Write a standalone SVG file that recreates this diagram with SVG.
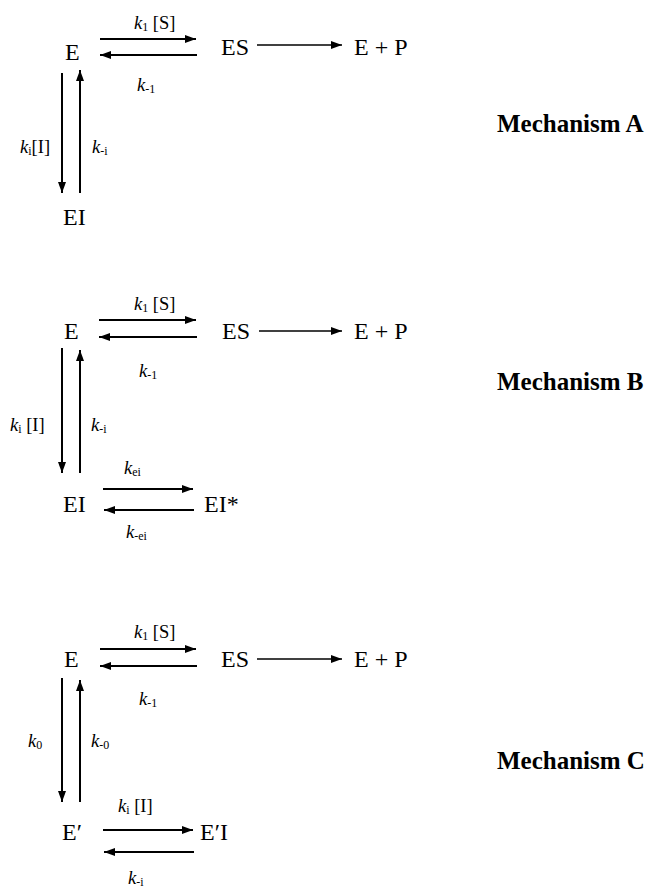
<svg xmlns="http://www.w3.org/2000/svg" width="650" height="888" viewBox="0 0 650 888" font-family="Liberation Serif, DejaVu Serif, serif">
<style>
text{font-family:'Liberation Serif','DejaVu Serif',serif;fill:#000}
.t{font-size:24px}
.k{font-size:18.5px}
.i{font-style:italic}
.s{font-size:12px;font-style:normal}
.m{font-size:25px;font-weight:bold}
.a{stroke:#000;stroke-width:2;fill:none}
.b{stroke:#000;stroke-width:1.3;fill:none}
</style>
<defs>
<marker id="ah" viewBox="0 0 11 8" refX="11" refY="4" markerWidth="11" markerHeight="8" markerUnits="userSpaceOnUse" orient="auto"><path d="M0,0L11,4L0,8z" fill="#000"/></marker>
</defs>
<g id="connectors">
<line class="a" x1="100" y1="39" x2="196" y2="39" marker-end="url(#ah)"/>
<line class="a" x1="197" y1="55" x2="100" y2="55" marker-end="url(#ah)"/>
<line class="b" x1="257" y1="45" x2="342" y2="45" marker-end="url(#ah)"/>
<line class="a" x1="62" y1="73" x2="62" y2="193" marker-end="url(#ah)"/>
<line class="a" x1="80" y1="193" x2="80" y2="70" marker-end="url(#ah)"/>
<line class="a" x1="99" y1="320" x2="196" y2="320" marker-end="url(#ah)"/>
<line class="a" x1="197" y1="337" x2="99" y2="337" marker-end="url(#ah)"/>
<line class="b" x1="259" y1="331" x2="342" y2="331" marker-end="url(#ah)"/>
<line class="a" x1="62" y1="348" x2="62" y2="473" marker-end="url(#ah)"/>
<line class="a" x1="80" y1="473" x2="80" y2="350" marker-end="url(#ah)"/>
<line class="a" x1="103" y1="489" x2="193" y2="489" marker-end="url(#ah)"/>
<line class="a" x1="194" y1="510" x2="104" y2="510" marker-end="url(#ah)"/>
<line class="a" x1="100" y1="649" x2="196" y2="649" marker-end="url(#ah)"/>
<line class="a" x1="197" y1="666" x2="100" y2="666" marker-end="url(#ah)"/>
<line class="b" x1="257" y1="659" x2="342" y2="659" marker-end="url(#ah)"/>
<line class="a" x1="62" y1="678" x2="62" y2="802" marker-end="url(#ah)"/>
<line class="a" x1="80" y1="802" x2="80" y2="680" marker-end="url(#ah)"/>
<line class="a" x1="103" y1="830" x2="193" y2="830" marker-end="url(#ah)"/>
<line class="a" x1="194" y1="852" x2="104" y2="852" marker-end="url(#ah)"/>
</g>
<g id="mechA">
<g id="A-E"><text class="t" x="65" y="60">E</text></g>
<g id="A-ES"><text class="t" x="221" y="55">ES</text></g>
<g id="A-EP"><text class="t" x="354" y="55">E + P</text></g>
<g id="A-EI"><text class="t" x="63" y="225">EI</text></g>
<text class="k" x="134" y="29"><tspan class="i">k</tspan><tspan class="s" dy="2">1</tspan><tspan dy="-2"> [S]</tspan></text>
<text class="k" x="137" y="91"><tspan class="i">k</tspan><tspan class="s" dy="2">-1</tspan></text>
<text class="k" x="20" y="153"><tspan class="i">k</tspan><tspan class="s" dy="2">i</tspan><tspan dy="-2">[I]</tspan></text>
<text class="k" x="92" y="153"><tspan class="i">k</tspan><tspan class="s" dy="2">-i</tspan></text>
<text class="m" x="497" y="132">Mechanism A</text>
</g>
<g id="mechB">
<g id="B-E"><text class="t" x="64" y="339">E</text></g>
<g id="B-ES"><text class="t" x="222" y="339">ES</text></g>
<g id="B-EP"><text class="t" x="354" y="339">E + P</text></g>
<g id="B-EI"><text class="t" x="63" y="512">EI</text></g>
<g id="B-EIs"><text class="t" x="204" y="512">EI*</text></g>
<text class="k" x="134" y="310"><tspan class="i">k</tspan><tspan class="s" dy="2">1</tspan><tspan dy="-2"> [S]</tspan></text>
<text class="k" x="139" y="377"><tspan class="i">k</tspan><tspan class="s" dy="2">-1</tspan></text>
<text class="k" x="10" y="431"><tspan class="i">k</tspan><tspan class="s" dy="2">i</tspan><tspan dy="-2"> [I]</tspan></text>
<text class="k" x="91" y="431"><tspan class="i">k</tspan><tspan class="s" dy="2">-i</tspan></text>
<text class="k" x="124" y="474"><tspan class="i">k</tspan><tspan class="s" dy="2">ei</tspan></text>
<text class="k" x="126" y="538"><tspan class="i">k</tspan><tspan class="s" dy="2">-ei</tspan></text>
<text class="m" x="497" y="390">Mechanism B</text>
</g>
<g id="mechC">
<g id="C-E"><text class="t" x="64" y="667">E</text></g>
<g id="C-ES"><text class="t" x="221" y="667">ES</text></g>
<g id="C-EP"><text class="t" x="354" y="667">E + P</text></g>
<g id="C-Ep"><text class="t" x="62" y="840">E′</text></g>
<g id="C-EpI"><text class="t" x="200" y="840">E′I</text></g>
<text class="k" x="134" y="638"><tspan class="i">k</tspan><tspan class="s" dy="2">1</tspan><tspan dy="-2"> [S]</tspan></text>
<text class="k" x="139" y="705"><tspan class="i">k</tspan><tspan class="s" dy="2">-1</tspan></text>
<text class="k" x="28" y="747"><tspan class="i">k</tspan><tspan class="s" dy="2">0</tspan></text>
<text class="k" x="91" y="747"><tspan class="i">k</tspan><tspan class="s" dy="2">-0</tspan></text>
<text class="k" x="118" y="812"><tspan class="i">k</tspan><tspan class="s" dy="2">i</tspan><tspan dy="-2"> [I]</tspan></text>
<text class="k" x="128" y="884"><tspan class="i">k</tspan><tspan class="s" dy="2">-i</tspan></text>
<text class="m" x="497" y="769">Mechanism C</text>
</g>
</svg>
